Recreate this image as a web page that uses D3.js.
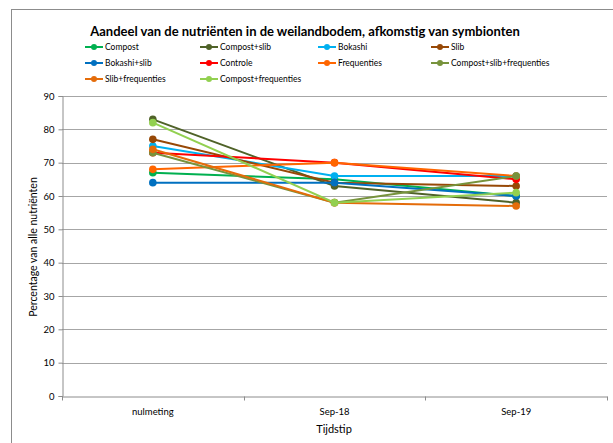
<!DOCTYPE html>
<html><head><meta charset="utf-8">
<script src="https://cdn.jsdelivr.net/npm/d3@7"></script>
<style>body{margin:0;background:#fff}svg{display:block;font-family:Lato,"Open Sans",sans-serif}</style>
</head><body><svg id="c" width="613" height="443"></svg>
<script>
const categories = ["nulmeting", "Sep-18", "Sep-19"];
const seriesNames = ["Compost","Compost+slib","Bokashi","Slib","Bokashi+slib","Controle","Frequenties","Compost+slib+frequenties","Slib+frequenties","Compost+frequenties"];
const seriesColors = ["#00B050","#4F6228","#00B0F0","#974806","#0070C0","#FF0000","#FF6600","#77933C","#E46C0A","#92D050"];
const compost = [67, 65, 60];
const compostSlib = [83, 63, 58];
const bokashi = [75, 66, 66];
const slib = [77, 64, 63];
const bokashiSlib = [64, 64, 60];
const controle = [73, 70, 65];
const frequenties = [68, 70, 66];
const compostSlibFreq = [73, 58, 66];
const slibFreq = [74, 58, 57];
const compostFreq = [82, 58, 61];
const yTicks = [0,10,20,30,40,50,60,70,80,90];
const title = "Aandeel van de nutriënten in de weilandbodem, afkomstig van symbionten";
const xTitle = "Tijdstip";
const yTitle = "Percentage van alle nutriënten";

const seriesValues = [compost, compostSlib, bokashi, slib, bokashiSlib, controle, frequenties, compostSlibFreq, slibFreq, compostFreq];
const series = seriesNames.map((n,i)=>({name:n, color:seriesColors[i], values:seriesValues[i]}));

const svg = d3.select("#c");
const L = 62, R = 607, T = 96, B = 396;
const x = d3.scaleBand().domain(categories).range([L,R]);
const y = d3.scaleLinear().domain([0,90]).range([B,T]);

svg.append("rect").attr("x",11.5).attr("y",9.5).attr("width",800).attr("height",600)
  .attr("fill","none").attr("stroke","#8c8c8c").attr("stroke-width",1);

// gridlines
svg.append("g").selectAll("line").data(yTicks.filter(d=>d>0)).join("line")
  .attr("x1",L).attr("x2",R).attr("y1",d=>Math.round(y(d))+0.5).attr("y2",d=>Math.round(y(d))+0.5)
  .attr("stroke","#a6a6a6").attr("stroke-width",1);

// y axis
const ya = svg.append("g").attr("transform",`translate(${L+0.5},0)`)
  .call(d3.axisLeft(y).tickValues(yTicks).tickSize(4).tickPadding(4));
ya.select(".domain").attr("stroke","#8c8c8c");
ya.selectAll(".tick line").attr("stroke","#8c8c8c");
ya.selectAll("text").attr("font-size",9.5).attr("fill","#000").attr("font-family","Lato");

// x axis
const xa = svg.append("g").attr("transform",`translate(0,${B+0.5})`)
  .call(d3.axisBottom(x).tickSize(0).tickPadding(12));
xa.select(".domain").attr("stroke","#8c8c8c");
xa.selectAll("text").attr("font-size",9.5).attr("fill","#000").attr("font-family","Lato");
// category boundary ticks
xa.append("g").selectAll("line").data(d3.range(categories.length+1)).join("line")
  .attr("x1",i=>Math.round(L+i*x.step())+0.5).attr("x2",i=>Math.round(L+i*x.step())+0.5)
  .attr("y1",0).attr("y2",4).attr("stroke","#8c8c8c");

// titles
svg.append("text").attr("x",305).attr("y",36).attr("text-anchor","middle")
  .attr("font-size",13).attr("font-weight","bold").text(title);
svg.append("text").attr("x",334).attr("y",433).attr("text-anchor","middle")
  .attr("font-size",11).text(xTitle);
svg.append("text").attr("transform","translate(37,247) rotate(-90)").attr("text-anchor","middle")
  .attr("font-size",10.5).text(yTitle);

// legend
const colX = [85, 200, 318, 431];
const rowY = [47, 63, 79];
const lg = svg.append("g").selectAll("g").data(series).join("g")
  .attr("transform",(d,i)=>`translate(${colX[i%4]},${rowY[Math.floor(i/4)]})`);
lg.append("line").attr("x1",0).attr("x2",18).attr("stroke",d=>d.color).attr("stroke-width",2);
lg.append("circle").attr("cx",9).attr("r",3).attr("fill",d=>d.color);
lg.append("text").attr("x",20).attr("dy","0.35em").attr("font-size",8.5).text(d=>d.name);

// lines
const cx = c => x(c) + x.bandwidth()/2;
const line = d3.line().x((d,i)=>cx(categories[i])).y(d=>y(d));
const sg = svg.append("g").selectAll("g").data(series).join("g");
sg.append("path").attr("d",d=>line(d.values)).attr("fill","none")
  .attr("stroke",d=>d.color).attr("stroke-width",2);
sg.selectAll("circle").data(d=>d.values.map((v,i)=>({v,i,c:d.color}))).join("circle")
  .attr("cx",d=>cx(categories[d.i])).attr("cy",d=>y(d.v)).attr("r",3.8).attr("fill",d=>d.c);
</script></body></html>
